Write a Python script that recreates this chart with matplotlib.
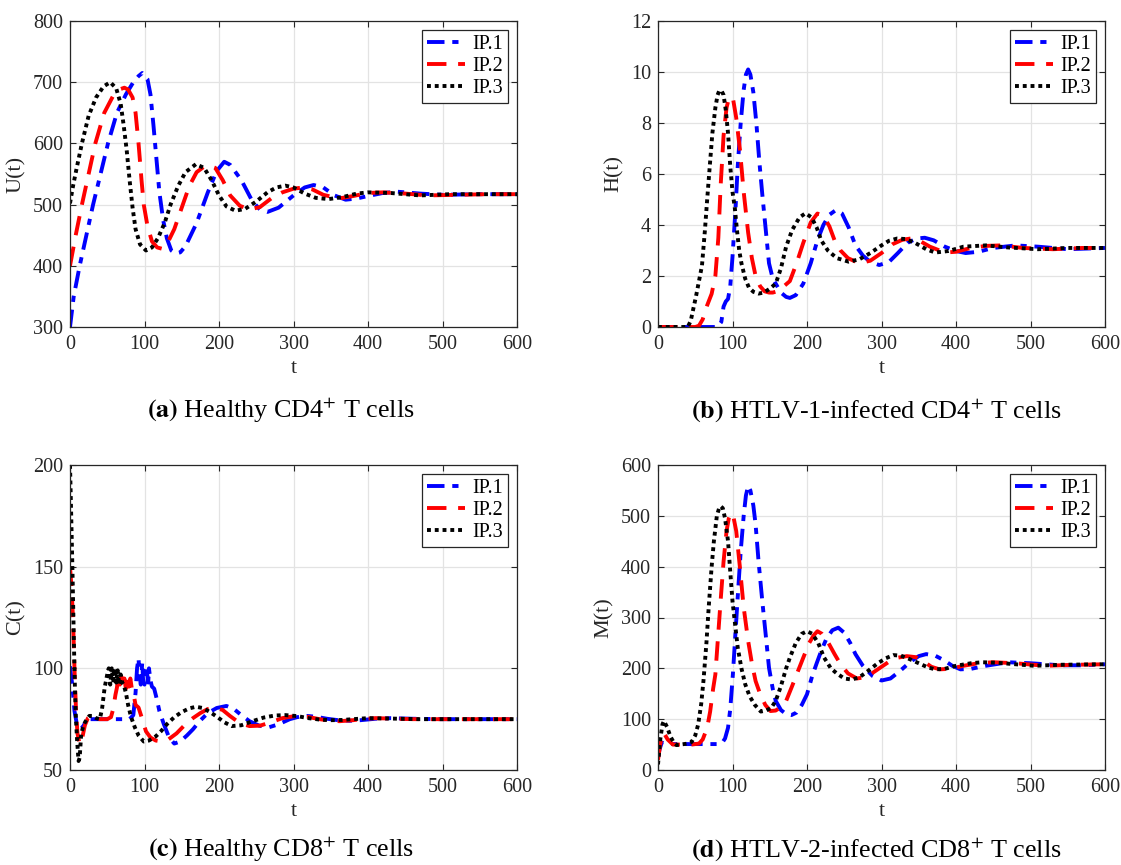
import matplotlib
matplotlib.use("Agg")
import matplotlib.pyplot as plt

plt.rcParams['font.family'] = ['Liberation Serif', 'DejaVu Serif']
plt.rcParams['mathtext.fontset'] = 'stix'

# ---------------- data ----------------
# (a) U(t)
a1_t = [0, 5, 13, 22, 31, 41, 51, 63, 75, 85, 92, 97, 104, 108, 112, 116, 120, 125, 130, 136, 142, 148, 155, 170, 185, 197, 207, 215, 230, 245, 255, 265, 280, 300, 315, 327, 340, 355, 370, 385, 400, 420, 440, 470, 500, 550, 600]
a1_v = [300, 350, 400, 450, 500, 550, 600, 650, 680, 700, 710, 715, 705, 680, 630, 575, 520, 475, 445, 425, 420, 422, 432, 470, 520, 555, 570, 565, 540, 505, 492, 488, 495, 515, 528, 532, 528, 515, 508, 510, 514, 519, 521, 518, 516, 517, 517]
a2_t = [0, 8, 16, 25, 34, 46, 58, 66, 73, 78, 84, 88, 92, 96, 99, 104, 110, 117, 123, 130, 140, 150, 160, 170, 180, 186, 195, 205, 215, 228, 241, 255, 270, 285, 300, 313, 325, 340, 361, 380, 400, 420, 450, 480, 520, 560, 600]
a2_v = [400, 452, 500, 550, 600, 650, 678, 688, 691, 688, 675, 650, 600, 540, 500, 465, 440, 430, 428, 435, 460, 495, 530, 553, 562, 564, 560, 540, 515, 498, 492, 496, 510, 520, 526, 528, 525, 516, 510, 514, 519, 520, 518, 515, 516, 517, 517]
a3_t = [0, 4, 9, 16, 25, 35, 45, 54, 62, 68, 72, 76, 80, 84, 88, 94, 102, 110, 118, 127, 135, 145, 155, 169, 180, 190, 200, 210, 222, 235, 250, 265, 277, 289, 300, 315, 330, 347, 365, 385, 400, 430, 470, 510, 560, 600]
a3_v = [502, 530, 560, 600, 645, 675, 693, 700, 690, 665, 630, 590, 540, 495, 460, 435, 425, 430, 445, 470, 500, 530, 553, 566, 560, 540, 515, 497, 490, 493, 505, 520, 528, 531, 528, 518, 511, 509, 512, 518, 520, 519, 515, 517, 517, 517]

# (b) H(t)
b1_t = [0, 40, 80, 85, 88, 91, 94, 97, 100, 104, 107, 111, 115, 118, 121, 124, 128, 132, 136, 140, 145, 149, 154, 158, 165, 172, 177, 185, 195, 205, 214, 222, 230, 239, 247, 256, 265, 275, 285, 297, 310, 322, 335, 347, 358, 370, 385, 400, 413, 430, 450, 480, 510, 550, 600]
b1_v = [0, 0, 0, 0.2, 0.8, 1.0, 1.1, 1.6, 2.75, 4.6, 6.3, 8.0, 9.3, 9.9, 10.1, 9.9, 9.2, 8.0, 6.5, 5.2, 3.7, 2.5, 1.9, 1.7, 1.35, 1.18, 1.14, 1.25, 1.7, 2.5, 3.4, 4.0, 4.4, 4.59, 4.45, 3.9, 3.2, 2.8, 2.55, 2.43, 2.55, 2.9, 3.3, 3.47, 3.5, 3.4, 3.15, 2.98, 2.9, 2.95, 3.1, 3.2, 3.15, 3.05, 3.1]
b2_t = [0, 50, 55, 60, 66, 72, 77, 81, 84, 88, 92, 95, 98, 101, 105, 110, 115, 121, 126, 131, 137, 143, 149, 154, 160, 167, 177, 186, 195, 205, 214, 222, 230, 237, 245, 255, 270, 285, 300, 315, 328, 339, 350, 365, 385, 400, 420, 440, 460, 490, 530, 570, 600]
b2_v = [0, 0, 0.05, 0.3, 0.85, 1.3, 2.0, 3.5, 5.5, 7.5, 8.6, 8.95, 9.05, 8.9, 8.2, 6.95, 5.3, 3.7, 2.7, 2.0, 1.6, 1.4, 1.35, 1.35, 1.4, 1.55, 1.8, 2.5, 3.3, 4.1, 4.45, 4.35, 3.95, 3.4, 3.0, 2.7, 2.5, 2.6, 2.9, 3.25, 3.42, 3.47, 3.4, 3.15, 2.92, 2.95, 3.1, 3.18, 3.2, 3.1, 3.05, 3.1, 3.1]
b3_t = [0, 40, 44, 47, 51, 55, 59, 63, 66, 70, 73, 77, 80, 82, 85, 88, 91, 94, 97, 100, 103, 106, 109, 112, 117, 122, 128, 135, 142, 150, 158, 165, 172, 180, 190, 198, 206, 213, 219, 228, 240, 256, 270, 285, 300, 310, 321, 332, 345, 360, 372, 390, 410, 440, 470, 510, 550, 600]
b3_v = [0, 0, 0.25, 0.66, 1.2, 1.8, 2.4, 3.8, 5.0, 6.5, 7.6, 8.6, 9.1, 9.25, 9.28, 9.1, 8.5, 7.6, 6.3, 5.3, 4.7, 3.8, 3.0, 2.5, 1.9, 1.55, 1.38, 1.31, 1.35, 1.5, 1.7, 2.3, 3.15, 3.8, 4.3, 4.46, 4.3, 3.9, 3.4, 3.0, 2.7, 2.56, 2.65, 2.9, 3.2, 3.38, 3.47, 3.45, 3.3, 3.05, 2.92, 2.98, 3.15, 3.2, 3.12, 3.05, 3.1, 3.1]

# (c) C(t)
c1_t = [0, 3, 6, 9, 13, 17, 20, 25, 30, 50, 70, 80, 85, 88, 90, 92, 93, 95, 97, 98, 100, 102, 103, 105, 106, 108, 110, 113, 116, 120, 126, 133, 140, 148, 157, 165, 174, 185, 197, 210, 220, 230, 241, 254, 267, 280, 295, 305, 318, 330, 345, 360, 375, 390, 410, 430, 460, 500, 600]
c1_v = [101, 92, 79, 73, 70.5, 71, 73, 75, 75, 75, 75, 75, 77, 88, 100, 105, 98, 92, 103, 95, 92, 101, 99, 93, 100, 94, 91, 90, 85.6, 79, 72.5, 66, 63, 64, 67, 70, 74, 78, 80.5, 81.5, 80, 77, 74, 71.8, 71, 72.5, 75, 76, 76.6, 76.2, 75.2, 74.5, 74.2, 74.5, 75.2, 75.5, 75.2, 75, 75]
c2_t = [0, 2, 4, 6, 8, 10, 13, 16, 20, 24, 28, 33, 40, 50, 55, 58, 61, 63, 65, 67, 69, 71, 73, 75, 77, 79, 81, 83, 85, 88, 92, 97, 102, 108, 115, 123, 132, 143, 155, 165, 175, 185, 195, 205, 215, 228, 241, 255, 270, 285, 303, 318, 335, 350, 362, 380, 395, 410, 430, 460, 500, 600]
c2_v = [150, 140, 125, 100, 80, 68, 62.6, 65, 72, 75.5, 76.6, 75.5, 75, 75, 76, 80, 87, 90.5, 97, 92, 96, 91, 95, 90, 96, 91, 95, 90, 88, 82, 80.7, 75, 69, 66, 64.5, 64, 65, 68, 72.5, 75.5, 78, 80, 80.7, 79.5, 76.5, 73, 71.6, 71.8, 73.5, 75.5, 76.6, 76.2, 75, 74.2, 74, 74.5, 75.2, 75.5, 75.3, 75, 75, 75]
c3_t = [0, 1, 2.4, 3.3, 4.3, 5.5, 6.7, 8, 9.6, 11.5, 13, 15, 18, 22.5, 26, 30, 35, 40, 43, 46.5, 50, 52, 54, 56, 58, 60, 62, 64, 66, 68, 70, 72, 75, 78, 82, 87, 92, 99, 106, 115, 122, 130, 140, 150, 160, 169, 178, 188, 198, 207, 217, 230, 245, 260, 275, 289, 305, 320, 335, 350, 365, 380, 400, 430, 470, 600]
c3_v = [200, 185, 162.6, 148, 130, 108, 89, 75, 64, 54.4, 56, 67.5, 72, 75, 76.6, 76.6, 75.5, 75, 80, 90.5, 97, 100, 92, 100, 94, 100, 93, 99, 92, 97, 93, 92, 88, 82, 76, 71, 67, 64, 64.5, 66.5, 69, 72.5, 76, 78.5, 80.3, 81.1, 80.5, 78.5, 76, 73.5, 71.6, 72, 74, 75.8, 76.8, 77, 76.5, 75.5, 74.8, 74.5, 74.6, 75, 75.5, 75.3, 75, 75]

# (d) M(t)
d1_t = [0, 2, 5, 10, 20, 40, 60, 80, 86, 90, 94, 97, 100.5, 104, 107.5, 111, 115, 118, 121, 124, 128, 131, 135, 140, 145, 149, 154, 158, 165, 172, 179, 186, 193, 200, 207, 213, 219, 226, 234, 242, 250, 258, 265, 275, 288, 300, 312, 325, 338, 350, 360, 372, 385, 395, 406, 420, 440, 470, 500, 540, 570, 600]
d1_v = [24, 40, 54, 52, 51, 51, 51, 51, 53, 62, 83, 120, 188, 270, 352, 430, 500, 540, 559, 550, 520, 483, 410, 332, 260, 201, 160, 136, 118, 110, 108, 113, 128, 149, 185, 210, 234, 258, 275, 280, 270, 250, 228, 205, 185, 176, 180, 195, 212, 224, 228, 225, 215, 205, 198, 199, 205, 212, 210, 206, 206, 208]
d2_t = [0, 3, 6, 9, 13, 20, 30, 45, 55, 60, 66, 70, 74, 77, 80, 84, 88, 92, 95, 98, 101, 105, 110, 115, 121, 126, 131, 137, 144, 151, 158, 165, 172, 180, 188, 195, 203, 209, 214, 220, 228, 237, 245, 255, 267, 280, 295, 310, 322, 334, 346, 358, 367, 378, 392, 410, 430, 450, 480, 520, 560, 600]
d2_v = [20, 50, 73.5, 70, 60, 50, 50, 50, 52, 60, 83, 115, 160, 188, 250, 332, 410, 470, 495, 506, 500, 470, 398, 320, 254, 210, 175, 150, 128, 116, 117, 124, 136, 165, 195, 221, 250, 265, 273, 268, 252, 228, 208, 190, 180, 183, 198, 213, 221, 224, 222, 212, 203, 198, 199, 205, 210, 212, 210, 205, 207, 208]
d3_t = [0, 3, 6, 8, 12, 17, 22, 25, 30, 40, 45, 50, 54, 58, 61, 65, 68, 72, 75, 79, 82, 84, 87, 90, 94, 97, 100, 104, 107, 112, 117, 123, 130, 138, 145, 152, 158, 165, 172, 177, 185, 193, 200, 207, 215, 223, 232, 240, 250, 260, 270, 282, 295, 306, 316, 326, 338, 350, 362, 372, 385, 400, 420, 435, 455, 480, 505, 540, 600]
d3_v = [11, 60, 90, 96.5, 85, 65, 52, 49, 50, 52, 55, 68, 90, 130, 175, 250, 319, 400, 450, 500, 515, 519, 515, 495, 450, 390, 332, 280, 241, 200, 169, 145, 128, 115, 117, 122, 136, 165, 200, 221, 250, 268, 273, 268, 250, 221, 200, 190, 180, 178, 182, 195, 210, 220, 226, 225, 218, 210, 202, 198, 199, 205, 210, 212, 211, 208, 205, 207, 208]

series_labels = ['IP.1', 'IP.2', 'IP.3']
y_labels = ['U(t)', 'H(t)', 'C(t)', 'M(t)']
y_limits = [(300, 800), (0, 12), (50, 200), (0, 600)]
y_ticks = [[300, 400, 500, 600, 700, 800], [0, 2, 4, 6, 8, 10, 12],
           [50, 100, 150, 200], [0, 100, 200, 300, 400, 500, 600]]
x_ticks = [0, 100, 200, 300, 400, 500, 600]
captions = [r'$\mathbf{(a)}$ Healthy CD4$^{+}$ T cells',
            r'$\mathbf{(b)}$ HTLV-1-infected CD4$^{+}$ T cells',
            r'$\mathbf{(c)}$ Healthy CD8$^{+}$ T cells',
            r'$\mathbf{(d)}$ HTLV-2-infected CD8$^{+}$ T cells']

panels = [
    [(a1_t, a1_v), (a2_t, a2_v), (a3_t, a3_v)],
    [(b1_t, b1_v), (b2_t, b2_v), (b3_t, b3_v)],
    [(c1_t, c1_v), (c2_t, c2_v), (c3_t, c3_v)],
    [(d1_t, d1_v), (d2_t, d2_v), (d3_t, d3_v)],
]

# ---------------- styling ----------------
W, H = 1121, 865
fig = plt.figure(figsize=(W / 100, H / 100), dpi=100)

# axes boxes in pixels: left, top, right, bottom
boxes = [(70, 21, 517, 327), (658, 21, 1105, 327),
         (70, 465, 517, 770), (658, 465, 1105, 770)]
cap_pos = [(281, 410), (876, 410), (281, 849), (876, 849)]

colors = ['#0000ff', '#ff0000', '#000000']
lw = 2.8
styles = [(0, (4.5, 2.0, 1.6, 2.0)), (0, (5.0, 3.0)), (0, (1.0, 1.0))]
ink = '#262626'

for i, (box, data) in enumerate(zip(boxes, panels)):
    l, t, r, b = box
    ax = fig.add_axes([l / W, 1 - b / H, (r - l) / W, (b - t) / H])
    for j, (tt, vv) in enumerate(data):
        ax.plot(tt, vv, color=colors[j], lw=lw, linestyle=styles[j],
                dash_capstyle='butt', solid_joinstyle='round',
                label=series_labels[j])
    ax.set_xlim(0, 600)
    ax.set_ylim(*y_limits[i])
    ax.set_xticks(x_ticks)
    ax.set_yticks(y_ticks[i])
    ax.grid(True, color='#e3e3e3', lw=0.9)
    ax.set_axisbelow(True)
    ax.tick_params(direction='in', top=True, right=True, length=4,
                   width=0.8, labelsize=14.5, colors=ink,
                   labelcolor=ink)
    ax.tick_params(axis='x', pad=6)
    ax.tick_params(axis='y', pad=5)
    for s in ax.spines.values():
        s.set_linewidth(0.9)
        s.set_color(ink)
    ax.set_xlabel('t', fontsize=16, color=ink, labelpad=3)
    ax.set_ylabel(y_labels[i], fontsize=16, color=ink, labelpad=5)
    leg = ax.legend(loc='upper right', fontsize=14.5, frameon=True,
                    fancybox=False, edgecolor=ink, framealpha=1,
                    borderpad=0.25, labelspacing=0.15, handlelength=1.9,
                    handletextpad=0.35, borderaxespad=0.45)
    leg.get_frame().set_linewidth(0.9)
    cx, cy = cap_pos[i]
    fig.text(cx / W, 1 - cy / H, captions[i], ha='center', va='center',
             fontsize=18.8, color='black')

fig.savefig('out.png', dpi=100)
